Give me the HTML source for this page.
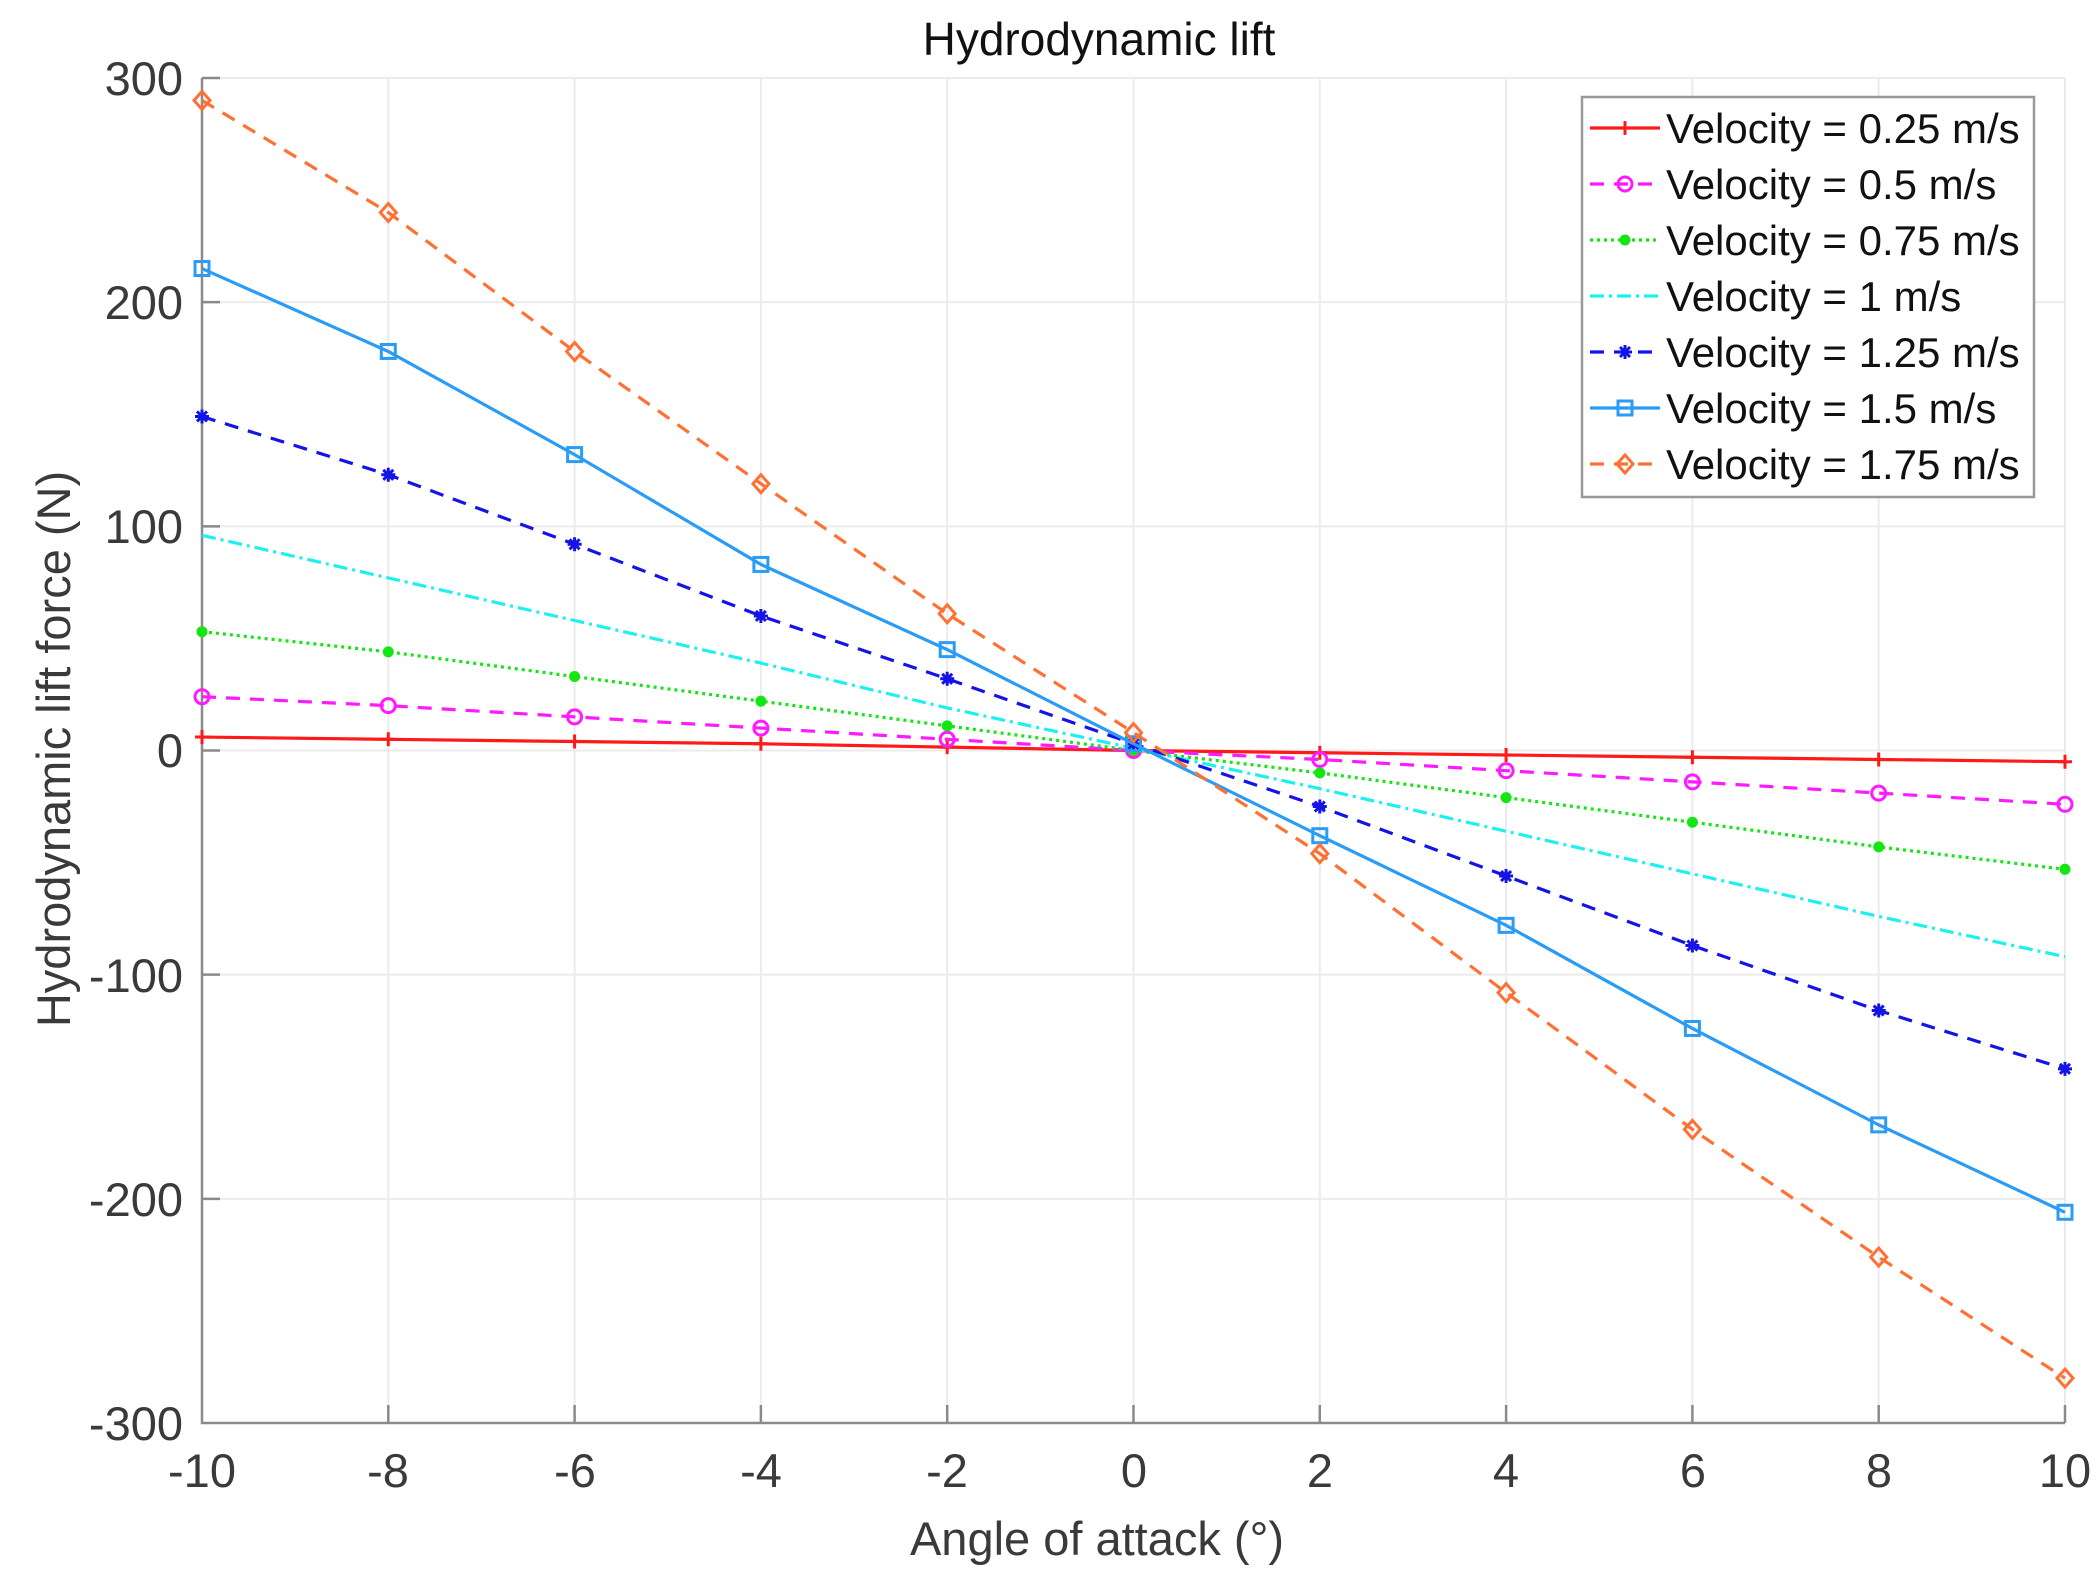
<!DOCTYPE html>
<html><head><meta charset="utf-8"><style>
html,body{margin:0;padding:0;background:#fff;}
svg{display:block;font-family:"Liberation Sans",Arial,sans-serif;}
</style></head><body>
<svg id="s" width="2096" height="1584" viewBox="0 0 2096 1584" xmlns="http://www.w3.org/2000/svg">
<rect width="2096" height="1584" fill="#fff"/>
<g id="grid" stroke="#ebebeb" stroke-width="2"></g>
<g id="axes" stroke="#8a8a8a" stroke-width="2.5" fill="none">
<path d="M202,78 V1423 H2065"/>
</g>
<g id="ticks" stroke="#8a8a8a" stroke-width="2.5"></g>
<g id="series"></g>
<g fill="#3a3a3a" font-size="47" text-anchor="end">
<text x="183" y="95">300</text>
<text x="183" y="319">200</text>
<text x="183" y="543">100</text>
<text x="183" y="767">0</text>
<text x="183" y="992">-100</text>
<text x="183" y="1216">-200</text>
<text x="183" y="1440">-300</text>
</g>
<g fill="#3a3a3a" font-size="47" text-anchor="middle">
<text x="202" y="1487">-10</text>
<text x="388" y="1487">-8</text>
<text x="575" y="1487">-6</text>
<text x="761" y="1487">-4</text>
<text x="947" y="1487">-2</text>
<text x="1134" y="1487">0</text>
<text x="1320" y="1487">2</text>
<text x="1506" y="1487">4</text>
<text x="1693" y="1487">6</text>
<text x="1879" y="1487">8</text>
<text x="2065" y="1487">10</text>
<text x="1097" y="1555" font-size="47">Angle of attack (°)</text>
<text x="1099" y="55" font-size="46" fill="#111">Hydrodynamic lift</text>
<text transform="translate(70,749) rotate(-90)" font-size="47">Hydrodynamic lift force (N)</text>
</g>
<rect x="1582" y="97" width="452" height="400" fill="#fff" stroke="#999" stroke-width="2.5"/>
<g id="leg"></g>
<g font-size="42" fill="#111">
<text x="1666" y="143">Velocity = 0.25 m/s</text>
<text x="1666" y="199">Velocity = 0.5 m/s</text>
<text x="1666" y="255">Velocity = 0.75 m/s</text>
<text x="1666" y="311">Velocity = 1 m/s</text>
<text x="1666" y="367">Velocity = 1.25 m/s</text>
<text x="1666" y="423">Velocity = 1.5 m/s</text>
<text x="1666" y="479">Velocity = 1.75 m/s</text>
</g>
</svg>
<script>
var NS="http://www.w3.org/2000/svg";
function X(v){return 202+(v+10)*93.15;}
function Y(v){return 750.5-v*2.2417;}
function el(t,a,p){var e=document.createElementNS(NS,t);for(var k in a)e.setAttribute(k,a[k]);p.appendChild(e);return e;}
var g=document.getElementById('grid'),tk=document.getElementById('ticks');
for(var i=-8;i<=10;i+=2){el('line',{x1:X(i),x2:X(i),y1:78,y2:1423},g);el('line',{x1:X(i),x2:X(i),y1:1405,y2:1423},tk);}
for(var j=-200;j<=300;j+=100){el('line',{x1:202,x2:2065,y1:Y(j),y2:Y(j)},g);el('line',{x1:202,x2:220,y1:Y(j),y2:Y(j)},tk);}
var xs=[-10,-8,-6,-4,-2,0,2,4,6,8,10];
var S=[
{c:'#ff1a1a',d:'',m:'plus',v:[6,5,4,3,1.5,0,-1,-2,-3,-4,-5]},
{c:'#ff1aff',d:'14,10',m:'circle',v:[24,20,15,10,5,0,-4,-9,-14,-19,-24]},
{c:'#14e614',d:'3,4',m:'dot',v:[53,44,33,22,11,0,-10,-21,-32,-43,-53]},
{c:'#1ef0f0',d:'14,5,3,5',m:'',v:[96,77,58,39,19,1,-17,-36,-55,-74,-92]},
{c:'#1414e6',d:'14,10',m:'star',v:[149,123,92,60,32,3,-25,-56,-87,-116,-142]},
{c:'#2b9cf5',d:'',m:'square',v:[215,178,132,83,45,3,-38,-78,-124,-167,-206]},
{c:'#ff7033',d:'14,10',m:'diamond',v:[290,240,178,119,61,8,-46,-108,-169,-226,-280]}
];
function marker(s,x,y,p){
 var c=s.c,a={fill:'none',stroke:c,'stroke-width':3};
 if(s.m=='plus'){el('path',{d:'M'+(x-7)+','+y+'h14M'+x+','+(y-7)+'v14',stroke:c,'stroke-width':3},p);}
 else if(s.m=='circle'){a.cx=x;a.cy=y;a.r=7;el('circle',a,p);}
 else if(s.m=='dot'){el('circle',{cx:x,cy:y,r:5.5,fill:c},p);}
 else if(s.m=='star'){el('path',{d:'M'+(x-7)+','+y+'h14M'+x+','+(y-7)+'v14M'+(x-5)+','+(y-5)+'l10,10M'+(x+5)+','+(y-5)+'l-10,10',stroke:c,'stroke-width':3},p);}
 else if(s.m=='square'){a.x=x-7;a.y=y-7;a.width=14;a.height=14;el('rect',a,p);}
 else if(s.m=='diamond'){a.d='M'+x+','+(y-9)+'L'+(x+8)+','+y+'L'+x+','+(y+9)+'L'+(x-8)+','+y+'Z';el('path',a,p);}
}
var sg=document.getElementById('series'),lg=document.getElementById('leg');
S.forEach(function(s,k){
 var pts=xs.map(function(x,i){return X(x)+','+Y(s.v[i]);}).join(' ');
 var at={points:pts,fill:'none',stroke:s.c,'stroke-width':3.2};
 if(s.d)at['stroke-dasharray']=s.d;
 el('polyline',at,sg);
 if(s.m)xs.forEach(function(x,i){marker(s,X(x),Y(s.v[i]),sg);});
 var ly=128+k*56;
 var la={x1:1590,x2:1660,y1:ly,y2:ly,stroke:s.c,'stroke-width':3.2};
 if(s.d)la['stroke-dasharray']=s.d;
 el('line',la,lg);
 if(s.m)marker(s,1625,ly,lg);
});
</script>
</body></html>
